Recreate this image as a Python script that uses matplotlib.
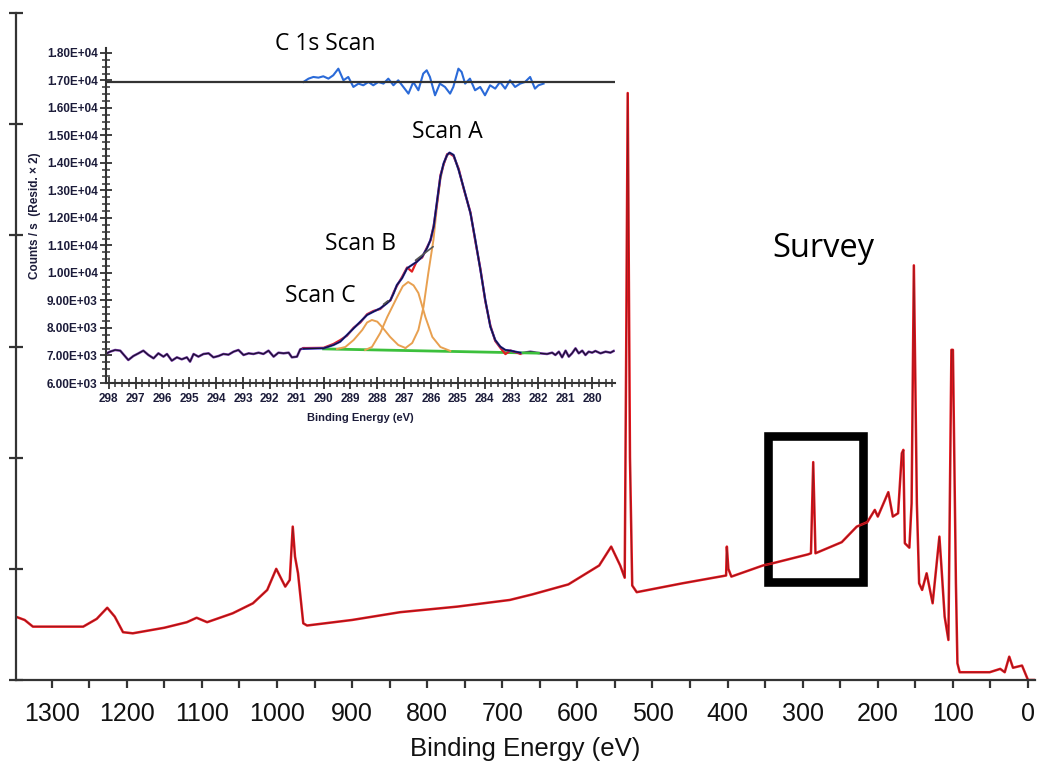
import matplotlib
matplotlib.use("Agg")
import matplotlib.pyplot as plt
from matplotlib.patches import Rectangle
from matplotlib.ticker import MultipleLocator

# ---- survey spectrum (binding energy in eV, intensity in arbitrary units) ----
survey_E = [1348, 1336, 1325, 1300, 1258, 1240, 1226, 1216, 1205, 1192, 1150, 1120,
            1107, 1093, 1059, 1032, 1013, 1001, 989, 983, 979, 976, 972, 965, 960,
            900, 836, 760, 690, 660, 612, 571, 555, 543, 537, 535, 533, 530, 527,
            521, 460, 402, 401, 399, 395, 353, 340, 293, 289, 286, 283, 248, 228,
            214, 204, 200, 186, 180, 173, 168, 166, 164, 158, 155, 152, 148, 145,
            141, 135, 127, 118, 115, 111, 106, 102, 100, 96, 94, 91, 51, 37, 31,
            25, 20, 8, 0, -8]
survey_I = [0.57, 0.54, 0.48, 0.48, 0.48, 0.55, 0.65, 0.57, 0.43, 0.42, 0.47, 0.52,
            0.56, 0.52, 0.60, 0.69, 0.81, 1.00, 0.84, 0.90, 1.38, 1.11, 0.96, 0.51, 0.49,
            0.54, 0.61, 0.66, 0.72, 0.77, 0.86, 1.03, 1.20, 1.03, 0.92, 3.00, 5.28, 2.00, 0.85,
            0.79, 0.87, 0.94, 1.20, 1.00, 0.93, 1.03, 1.05, 1.13, 1.14, 1.96, 1.14, 1.24, 1.38,
            1.42, 1.53, 1.47, 1.69, 1.47, 1.50, 2.04, 2.07, 1.23, 1.19, 1.59, 3.73, 1.59, 0.87,
            0.81, 0.96, 0.69, 1.29, 0.99, 0.57, 0.36, 2.97, 2.97, 0.87, 0.15, 0.07, 0.07, 0.10, 0.07,
            0.21, 0.11, 0.13, 0.0, 0.0]
survey_xticks = [1300, 1200, 1100, 1000, 900, 800, 700, 600, 500, 400, 300, 200, 100, 0]

# ---- C 1s high resolution scan ----
noise_left_E = [298.07, 297.95, 297.76, 297.57, 297.27, 297.08, 296.89, 296.71, 296.52,
                296.33, 296.15, 295.96, 295.83, 295.65, 295.46, 295.28, 295.09, 294.97,
                294.84, 294.66, 294.47, 294.28, 294.10, 293.91, 293.73, 293.54, 293.35,
                293.17, 292.98, 292.79, 292.61, 292.42, 292.24, 292.05, 291.86, 291.68,
                291.49, 291.30, 291.18, 290.99, 290.87, 290.75]
noise_left_I = [7079, 7139, 7200, 7176, 6836, 6982, 7079, 7176, 7018, 6897, 7079, 6958,
                7055, 6812, 6933, 6861, 6933, 6776, 7055, 6958, 7055, 7079, 6933, 6982,
                7055, 7030, 7139, 7200, 7018, 7079, 7055, 7103, 7055, 7176, 6958, 7103,
                7079, 7103, 6933, 6958, 7224, 7261]
noise_right_E = [282.67, 282.30, 281.93, 281.68, 281.49, 281.37, 281.24, 281.12, 280.99,
                 280.87, 280.75, 280.62, 280.50, 280.37, 280.25, 280.13, 280.00, 279.88,
                 279.69, 279.50, 279.32, 279.20]
noise_right_I = [7079, 7139, 7079, 7055, 7103, 7018, 7139, 6933, 7176, 6958, 7079, 7261,
                 7079, 7176, 7018, 7139, 7103, 7164, 7079, 7139, 7103, 7164]

env_E = [290.75, 290.00, 289.63, 289.38, 289.13, 288.88, 288.63, 288.38, 288.14, 287.89,
         287.64, 287.51, 287.39, 287.27, 287.08, 286.89, 286.71, 286.52, 286.33, 286.15,
         286.02, 285.90, 285.77, 285.65, 285.53, 285.40, 285.31, 285.16, 284.97, 284.78,
         284.53, 284.35, 284.16, 283.98, 283.79, 283.61, 283.42, 283.23, 283.04, 282.67]
env_I = [7245, 7262, 7382, 7503, 7745, 7988, 8230, 8473, 8594, 8715,
         8897, 9018, 9261, 9564, 9806, 10170, 10291, 10412, 10594, 10897,
         11200, 11685, 12655, 13503, 13988, 14291, 14376, 14291, 13745, 13079,
         12170, 11200, 10109, 9018, 8048, 7564, 7321, 7200, 7176, 7100]
raw_I = [7270, 7280, 7420, 7560, 7720, 8010, 8200, 8500, 8620, 8690,
         8930, 9000, 9300, 9530, 9850, 10200, 10050, 10450, 10560, 10930,
         11180, 11720, 12600, 13550, 13950, 14320, 14350, 14250, 13790, 13050,
         12200, 11150, 10150, 8980, 8090, 7530, 7280, 7050, 7180, 7060]

bg_E = [290.0, 282.0]
bg_I = [7240, 7085]

compA_E = [286.95, 286.70, 286.47, 286.28, 286.10, 285.91, 285.77, 285.65, 285.53, 285.40,
           285.31, 285.16, 284.97, 284.78, 284.53, 284.35, 284.16, 283.98, 283.79, 283.61,
           283.42, 283.23, 283.04]
compA_I = [7273, 7455, 7927, 8764, 10000, 11200, 12500, 13400, 13950, 14270,
           14360, 14280, 13740, 13070, 12160, 11190, 10100, 9010, 8040, 7560,
           7320, 7195, 7170]
compB_E = [288.45, 288.20, 287.89, 287.63, 287.26, 287.05, 286.85, 286.65, 286.47, 286.21,
           285.95, 285.65, 285.28]
compB_I = [7200, 7309, 7818, 8400, 9127, 9520, 9673, 9550, 9273, 8400, 7673, 7309, 7164]
compC_E = [289.50, 289.19, 288.88, 288.56, 288.38, 288.20, 288.00, 287.82, 287.52, 287.22, 286.95]
compC_I = [7236, 7309, 7564, 7927, 8200, 8291, 8230, 8036, 7673, 7382, 7273]

resid_zero = 16945
resid_E = [290.75, 290.56, 290.38, 290.19, 290.01, 289.82, 289.64, 289.45, 289.26, 289.08,
           288.89, 288.70, 288.52, 288.33, 288.15, 287.96, 287.77, 287.59, 287.40, 287.22,
           287.03, 286.84, 286.66, 286.47, 286.29, 286.16, 286.04, 285.85, 285.67, 285.48,
           285.29, 285.17, 284.98, 284.86, 284.73, 284.55, 284.36, 284.17, 283.99, 283.80,
           283.61, 283.43, 283.24, 283.06, 282.87, 282.68, 282.50, 282.31, 282.13, 282.00, 281.81]
resid_I = [16945, 17066, 17127, 17102, 17151, 17066, 17187, 17429, 17006, 17127,
           16764, 16885, 16824, 16945, 16824, 16945, 16885, 17066, 16824, 17006,
           16764, 16521, 16945, 16643, 17248, 17369, 17127, 16461, 16885, 16764,
           16521, 16764, 17429, 17308, 16885, 17066, 16643, 16764, 16461, 16824,
           16703, 16945, 16703, 17006, 16764, 16885, 16945, 17127, 16703, 16824, 16885]

inset_xticks = [298, 297, 296, 295, 294, 293, 292, 291, 290, 289, 288, 287, 286, 285,
                284, 283, 282, 281, 280]
inset_yticks = [6000, 7000, 8000, 9000, 10000, 11000, 12000, 13000, 14000, 15000,
                16000, 17000, 18000]
inset_ylabels = ["6.00E+03", "7.00E+03", "8.00E+03", "9.00E+03", "1.00E+04", "1.10E+04",
                 "1.20E+04", "1.30E+04", "1.40E+04", "1.50E+04", "1.60E+04", "1.70E+04",
                 "1.80E+04"]

W, H = 1037, 765
fig = plt.figure(figsize=(W / 100, H / 100), dpi=100)

# ---------------- main survey axes ----------------
ax = fig.add_axes([16 / W, 85 / H, 1019 / W, 667 / H])
ax.plot(survey_E, survey_I, color="#e8141c", lw=1.8, solid_joinstyle="round")
ax.plot(survey_E, survey_I, color="#222222", lw=0.5, alpha=0.55)
ax.set_xlim(1347.5, -9.3)
ax.set_ylim(0, 6)
ax.set_xticks(survey_xticks)
ax.set_xticklabels([str(v) for v in survey_xticks])
ax.xaxis.set_minor_locator(MultipleLocator(50))
ax.set_yticks(range(7))
ax.set_yticklabels([])
for s in ["top", "right"]:
    ax.spines[s].set_visible(False)
for s in ["left", "bottom"]:
    ax.spines[s].set_color("#333333")
    ax.spines[s].set_linewidth(1.6)
ax.tick_params(axis="x", which="both", direction="out", length=6, width=1.6,
               color="#333333", pad=10, labelsize=18)
ax.tick_params(axis="y", which="major", direction="inout", length=10, width=1.6,
               color="#333333")
for lb in ax.get_xticklabels():
    lb.set_family("Liberation Sans")
    lb.set_color("#111111")
ax.set_xlabel("Binding Energy (eV)", fontsize=18.5, family="Liberation Sans",
              color="#111111", labelpad=8)

box = Rectangle((219.6, 0.886), 126.5, 1.308, fill=False, edgecolor="black",
                lw=6.2, joinstyle="miter")
ax.add_patch(box)

fig.text(772 / W, 1 - 257 / H, "Survey", fontsize=23.5, family="Open Sans",
         va="baseline", ha="left", color="black")

# ---------------- inset: C 1s scan ----------------
ia = fig.add_axes([106 / W, 1 - 383 / H, 509 / W, 335 / H])
ia.plot(noise_left_E, noise_left_I, color="#7a3aaa", lw=1.8)
ia.plot(noise_left_E, noise_left_I, color="#1a1030", lw=0.9)
ia.plot(noise_right_E, noise_right_I, color="#7a3aaa", lw=1.8)
ia.plot(noise_right_E, noise_right_I, color="#1a1030", lw=0.9)
ia.plot(bg_E, bg_I, color="#3cc03c", lw=2.0)
ia.plot(compA_E, compA_I, color="#e8a050", lw=1.4)
ia.plot(compB_E, compB_I, color="#e8a050", lw=1.4)
ia.plot(compC_E, compC_I, color="#e8a050", lw=1.4)
ia.plot(env_E, raw_I, color="#e02020", lw=1.6)
ia.plot(env_E, env_I, color="#2828c8", lw=1.6)
ia.plot(env_E, env_I, color="#151525", lw=0.8)
ia.plot(resid_E, resid_I, color="#2a6ad8", lw=1.5)
ia.axhline(resid_zero, color="#333333", lw=1.6)

# small pointer lines for the labels
ia.annotate("", xy=(285.84, 11018), xytext=(286.66, 10400),
            arrowprops=dict(arrowstyle="-", color="#555555", lw=1.2))
ia.annotate("", xy=(287.52, 9050), xytext=(287.85, 8800),
            arrowprops=dict(arrowstyle="-", color="#555555", lw=1.2))

ia.set_xlim(298.1, 279.15)
ia.set_ylim(6000, 18180)
ia.set_xticks(inset_xticks)
ia.set_xticklabels([str(v) for v in inset_xticks])
ia.xaxis.set_minor_locator(MultipleLocator(0.25))
ia.set_yticks(inset_yticks)
ia.set_yticklabels(inset_ylabels)
ia.yaxis.set_minor_locator(MultipleLocator(250))
for s in ["top", "right"]:
    ia.spines[s].set_visible(False)
for s in ["left", "bottom"]:
    ia.spines[s].set_color("#333333")
    ia.spines[s].set_linewidth(1.5)
ia.tick_params(which="major", direction="inout", length=8, width=1.3, color="#333333",
               labelsize=8.5, labelcolor="#1c1c3a")
ia.tick_params(which="minor", direction="inout", length=6, width=1.1, color="#333333")
ia.tick_params(axis="x", pad=3)
ia.tick_params(axis="y", pad=2)
for lb in ia.get_xticklabels() + ia.get_yticklabels():
    lb.set_family("Liberation Sans")
    lb.set_weight("bold")
ia.set_xlabel("Binding Energy (eV)", fontsize=8, family="Liberation Sans",
              weight="bold", color="#1c1c3a", labelpad=6)
ia.set_ylabel("Counts / s  (Resid. \u00d7 2)", fontsize=8.5, family="Liberation Sans",
              weight="bold", color="#1c1c3a", labelpad=4)

fig.text(275 / W, 1 - 50 / H, "C 1s Scan", fontsize=16.5, family="Open Sans",
         va="baseline", ha="left")
fig.text(412 / W, 1 - 138 / H, "Scan A", fontsize=16.5, family="Open Sans",
         va="baseline", ha="left")
fig.text(325 / W, 1 - 250 / H, "Scan B", fontsize=16.5, family="Open Sans",
         va="baseline", ha="left")
fig.text(285 / W, 1 - 302 / H, "Scan C", fontsize=16.5, family="Open Sans",
         va="baseline", ha="left")

fig.savefig("out.png", dpi=100)
